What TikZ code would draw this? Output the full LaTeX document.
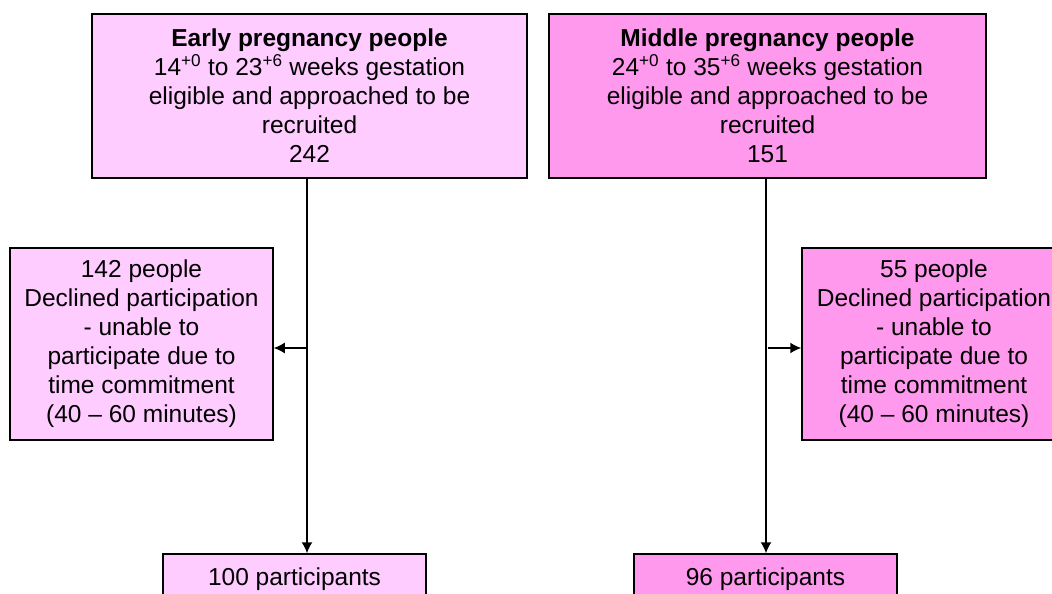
\documentclass[tikz,border=0pt]{standalone}
\usepackage{fontspec}
\setmainfont{Liberation Sans}
\usetikzlibrary{shapes,arrows,arrows.meta}
\definecolor{earlypink}{RGB}{255,204,255}
\definecolor{midpink}{RGB}{255,153,238}
\tikzstyle{every node}=[font=\fontsize{24.5}{29}\selectfont]
\tikzstyle{every path}=[line width=1.5pt]
\tikzstyle{box}=[draw, line width=1.5pt, align=center, inner sep=0pt]
\tikzstyle{conn}=[-{Latex[length=11pt,width=11pt]}, line width=1.5pt]
\begin{document}
\begin{tikzpicture}[x=1pt,y=-1pt]
\useasboundingbox (0,0) rectangle (1052,594);

% recruitment boxes
\node[box, fill=earlypink, minimum width=435pt, minimum height=164pt] (early) at (309.5,96) {\textbf{Early pregnancy people}\\14\textsuperscript{+0} to 23\textsuperscript{+6} weeks gestation\\eligible and approached to be\\recruited\\242};
\node[box, fill=midpink, minimum width=437pt, minimum height=164pt] (middle) at (767.5,96) {\textbf{Middle pregnancy people}\\24\textsuperscript{+0} to 35\textsuperscript{+6} weeks gestation\\eligible and approached to be\\recruited\\151};

% declined
\node[box, fill=earlypink, minimum width=263pt, minimum height=192pt] (declEarly) at (141.5,344) {142 people\\Declined participation\\- unable to\\participate due to\\time commitment\\(40 -- 60 minutes)};
\node[box, fill=midpink, minimum width=264pt, minimum height=192pt] (declMiddle) at (934,344) {55 people\\Declined participation\\- unable to\\participate due to\\time commitment\\(40 -- 60 minutes)};

% participants
\node[box, fill=earlypink, minimum width=263pt, minimum height=50pt] (partEarly) at (294.5,579) {100 participants};
\node[box, fill=midpink, minimum width=263pt, minimum height=50pt] (partMiddle) at (765.5,579) {96 participants};

\coordinate (splitEarly) at ([xshift=-2.5pt]early.south);
\coordinate (splitMiddle) at ([xshift=-1.5pt]middle.south);
\draw [conn] (splitEarly) -- (splitEarly |- partEarly.north);
\draw [conn] ([yshift=-4pt]splitEarly |- declEarly.east) -- ([yshift=-4pt]declEarly.east);
\draw [conn] (splitMiddle) -- (splitMiddle |- partMiddle.north);
\draw [conn] ([yshift=-4pt,xshift=2pt]splitMiddle |- declMiddle.west) -- ([yshift=-4pt]declMiddle.west);
\end{tikzpicture}
\end{document}
